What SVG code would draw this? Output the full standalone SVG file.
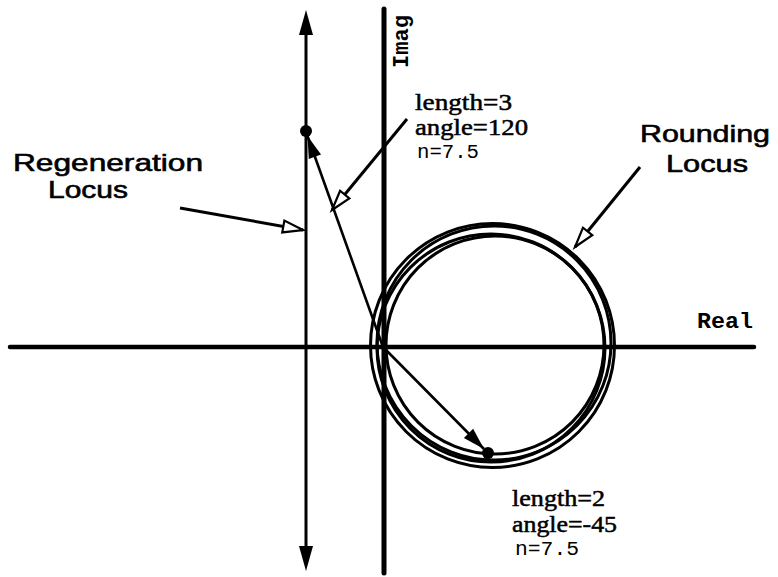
<svg xmlns="http://www.w3.org/2000/svg" width="778" height="577" viewBox="0 0 778 577">
  <style>
    .sans { font-family: "Liberation Sans", Arial, sans-serif; font-size: 24px; fill: #000; stroke: #000; stroke-width: 0.6; }
    .serif { font-family: "Liberation Serif", "Times New Roman", serif; font-size: 23px; fill: #000; stroke: #000; stroke-width: 0.5; }
    .mono { font-family: "Liberation Mono", "Courier New", monospace; fill: #000; }
    .axis { stroke: #000; stroke-linecap: round; fill: none; }
    .locus { stroke: #000; stroke-width: 3; fill: none; }
    .vec { stroke: #000; stroke-width: 2.6; fill: none; }
    .ptr { stroke: #000; stroke-width: 3; fill: none; }
  </style>
  <defs>
    <marker id="bigHead" markerUnits="userSpaceOnUse" orient="auto" refX="0" refY="0" markerWidth="30" markerHeight="20" overflow="visible">
      <path d="M0,0 L-25,-7 L-25,7 Z" fill="#000"/>
    </marker>
    <marker id="vecHead" markerUnits="userSpaceOnUse" orient="auto" refX="0" refY="0" markerWidth="30" markerHeight="20" overflow="visible">
      <path d="M0,0 L-22,-6.5 L-22,6.5 Z" fill="#000"/>
    </marker>
    <marker id="openHead" markerUnits="userSpaceOnUse" orient="auto" refX="0" refY="0" markerWidth="30" markerHeight="20" overflow="visible">
      <path d="M0,0 L-20,-6 L-20,6 Z" fill="#fff" stroke="#000" stroke-width="2.2" stroke-linejoin="miter"/>
    </marker>
  </defs>

  <g id="real-axis">
    <line class="axis" x1="10" y1="347" x2="754" y2="347" stroke-width="4.5"/>
    <text class="mono" x="697" y="328" font-size="22" font-weight="bold" textLength="56" lengthAdjust="spacingAndGlyphs">Real</text>
  </g>

  <g id="imag-axis">
    <line class="axis" x1="384" y1="9" x2="384" y2="573" stroke-width="5"/>
    <text class="mono" transform="translate(408,68) rotate(-90)" font-size="22" font-weight="bold" textLength="53" lengthAdjust="spacingAndGlyphs">Imag</text>
  </g>

  <g id="regeneration-locus">
    <line x1="306" y1="35" x2="306" y2="546" stroke="#000" stroke-width="3"/>
    <line x1="306" y1="36" x2="306" y2="10" stroke="#000" stroke-width="0.1" marker-end="url(#bigHead)"/>
    <line x1="306" y1="545" x2="306" y2="571" stroke="#000" stroke-width="0.1" marker-end="url(#bigHead)"/>
    <text class="sans" x="13" y="171" textLength="190" lengthAdjust="spacingAndGlyphs">Regeneration</text>
    <text class="sans" x="48" y="198" textLength="80" lengthAdjust="spacingAndGlyphs">Locus</text>
  </g>

  <g id="rounding-locus">
    <circle class="locus" cx="492.5" cy="345.5" r="122"/>
    <circle class="locus" cx="494" cy="343" r="117"/>
    <circle class="locus" cx="491" cy="348" r="114"/>
    <circle class="locus" cx="495" cy="345" r="109"/>
    <text class="sans" x="640" y="142" textLength="130" lengthAdjust="spacingAndGlyphs">Rounding</text>
    <text class="sans" x="666" y="172" textLength="82" lengthAdjust="spacingAndGlyphs">Locus</text>
  </g>

  <g id="vector-1">
    <line class="vec" x1="383" y1="347" x2="307.5" y2="136" marker-end="url(#vecHead)"/>
    <circle cx="306" cy="131" r="6" fill="#000"/>
    <text class="serif" x="415" y="110" textLength="97" lengthAdjust="spacingAndGlyphs">length=3</text>
    <text class="serif" x="415" y="135" textLength="113" lengthAdjust="spacingAndGlyphs">angle=120</text>
    <text class="mono" x="417" y="158" font-size="20" textLength="62" lengthAdjust="spacingAndGlyphs">n=7.5</text>
  </g>

  <g id="vector-2">
    <line class="vec" x1="383" y1="347" x2="484" y2="449" marker-end="url(#vecHead)"/>
    <circle cx="488" cy="453" r="6" fill="#000"/>
    <text class="serif" x="512" y="506" textLength="93" lengthAdjust="spacingAndGlyphs">length=2</text>
    <text class="serif" x="512" y="532" textLength="105" lengthAdjust="spacingAndGlyphs">angle=-45</text>
    <text class="mono" x="515" y="555" font-size="20" textLength="64" lengthAdjust="spacingAndGlyphs">n=7.5</text>
  </g>

  <g id="connectors">
    <line class="ptr" x1="180" y1="208" x2="303" y2="230" marker-end="url(#openHead)"/>
    <line class="ptr" x1="407" y1="119" x2="332" y2="210" marker-end="url(#openHead)"/>
    <line class="ptr" x1="640" y1="167" x2="575" y2="247" marker-end="url(#openHead)"/>
  </g>
</svg>
